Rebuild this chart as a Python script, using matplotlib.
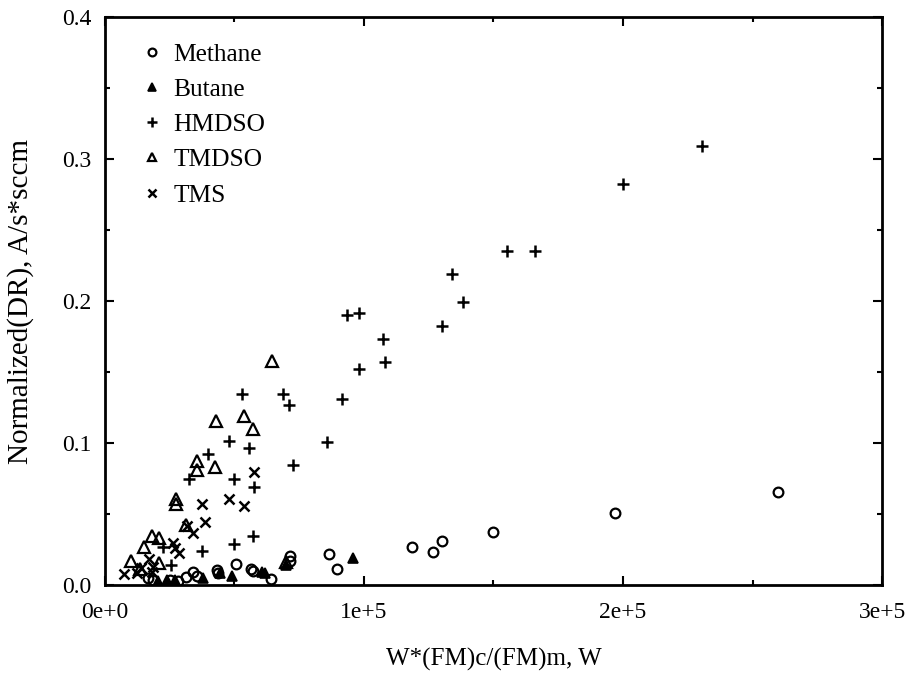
import matplotlib
matplotlib.use("Agg")
import matplotlib.pyplot as plt
from matplotlib.ticker import MultipleLocator, FixedFormatter, FixedLocator

# values (x in W, y in A/s*sccm)
methane_x = [50460, 56400, 57260, 64100, 43100, 43500, 34100, 35600, 31270, 28300,
             25100, 18600, 16700, 71400, 71400, 86500, 89700, 118700, 126800, 130100,
             149900, 197000, 259800]
methane_y = [0.0148, 0.0113, 0.0101, 0.0042, 0.0106, 0.0082, 0.0094, 0.0063, 0.0058, 0.0028,
             0.0035, 0.0035, 0.0047, 0.0204, 0.0171, 0.0218, 0.0115, 0.0265, 0.0232, 0.0312,
             0.0371, 0.0507, 0.0657]

butane_x = [48900, 44400, 38000, 23800, 20600, 27000, 61800, 60500, 69900, 95900]
butane_y = [0.0063, 0.0082, 0.0047, 0.0035, 0.0028, 0.0035, 0.0082, 0.0094, 0.0141, 0.0192]

hmdso_x = [52900, 68600, 71200, 48000, 55500, 39600, 32300, 49800, 57700, 57000,
           49800, 37300, 22300, 25600, 72700, 85900, 91700, 93300, 98200, 98200,
           107500, 108200, 130300, 133900, 138100, 155300, 166200, 200000, 230600]
hmdso_y = [0.1345, 0.1345, 0.1268, 0.1014, 0.0967, 0.0920, 0.0744, 0.0744, 0.0692, 0.0347,
           0.0291, 0.0242, 0.0270, 0.0139, 0.0845, 0.1009, 0.1312, 0.1900, 0.1913, 0.1521,
           0.1732, 0.1568, 0.1824, 0.2188, 0.1990, 0.2354, 0.2354, 0.2824, 0.3092]

tmdso_x = [64500, 42900, 53700, 57000, 35600, 35600, 42350, 27400, 27400, 31300,
           18300, 21000, 15100, 9900, 20700, 13500, 70000]
tmdso_y = [0.1580, 0.1157, 0.1190, 0.1100, 0.0875, 0.0810, 0.0829, 0.0603, 0.0570, 0.0423,
           0.0347, 0.0329, 0.0265, 0.0167, 0.0153, 0.0113, 0.0160]

tms_x = [57700, 48000, 53800, 37300, 38700, 34100, 31500, 26400, 27000, 28700,
         17100, 18600, 13800, 12200, 7450, 18000]
tms_y = [0.0798, 0.0603, 0.0559, 0.0570, 0.0441, 0.0364, 0.0418, 0.0294, 0.0258, 0.0228,
         0.0181, 0.0129, 0.0117, 0.0082, 0.0075, 0.0094]

x_ticks = [0, 100000, 200000, 300000]
x_labels = ["0e+0", "1e+5", "2e+5", "3e+5"]
y_ticks = [0.0, 0.1, 0.2, 0.3, 0.4]
y_labels = ["0.0", "0.1", "0.2", "0.3", "0.4"]

plt.rcParams["font.family"] = ["Liberation Serif", "DejaVu Serif"]

fig = plt.figure(figsize=(9.09, 6.75), dpi=100)
ax = fig.add_axes([0.1155, 0.1333, 0.8548, 0.8415])

k = "black"
ax.plot(methane_x, methane_y, "o", ls="none", mfc="none", mec=k, ms=7, mew=1.6, label="Methane")
ax.plot(butane_x, butane_y, "^", ls="none", mfc=k, mec=k, ms=7.5, mew=1.2, label="Butane")
ax.plot(hmdso_x, hmdso_y, "+", ls="none", color=k, ms=9, mew=1.8, label="HMDSO")
ax.plot(tmdso_x, tmdso_y, "^", ls="none", mfc="none", mec=k, ms=8, mew=1.6, label="TMDSO")
ax.plot(tms_x, tms_y, "x", ls="none", color=k, ms=7, mew=1.8, label="TMS")

ax.set_xlim(0, 300000)
ax.set_ylim(0, 0.4)
ax.xaxis.set_major_locator(FixedLocator(x_ticks))
ax.xaxis.set_major_formatter(FixedFormatter(x_labels))
ax.xaxis.set_minor_locator(MultipleLocator(50000))
ax.yaxis.set_major_locator(FixedLocator(y_ticks))
ax.yaxis.set_major_formatter(FixedFormatter(y_labels))
ax.yaxis.set_minor_locator(MultipleLocator(0.05))

ax.tick_params(which="both", direction="in", top=True, right=True, width=1.5, colors=k)
ax.tick_params(which="major", length=6.5, labelsize=17)
ax.tick_params(axis="x", which="major", pad=12)
ax.tick_params(axis="y", which="major", pad=10)
ax.tick_params(which="minor", length=3.4)
for sp in ax.spines.values():
    sp.set_linewidth(2)

ax.set_xlabel("W*(FM)c/(FM)m, W", fontsize=18, labelpad=18)
ax.set_ylabel("Normalized(DR), A/s*sccm", fontsize=21, labelpad=20)

ax.legend(loc="upper left", bbox_to_anchor=(0.018, 0.995), frameon=False, fontsize=18.3,
          markerscale=0.8, handlelength=0.8, handletextpad=0.43, labelspacing=0.49,
          numpoints=1)

fig.savefig("out.png", dpi=100)
